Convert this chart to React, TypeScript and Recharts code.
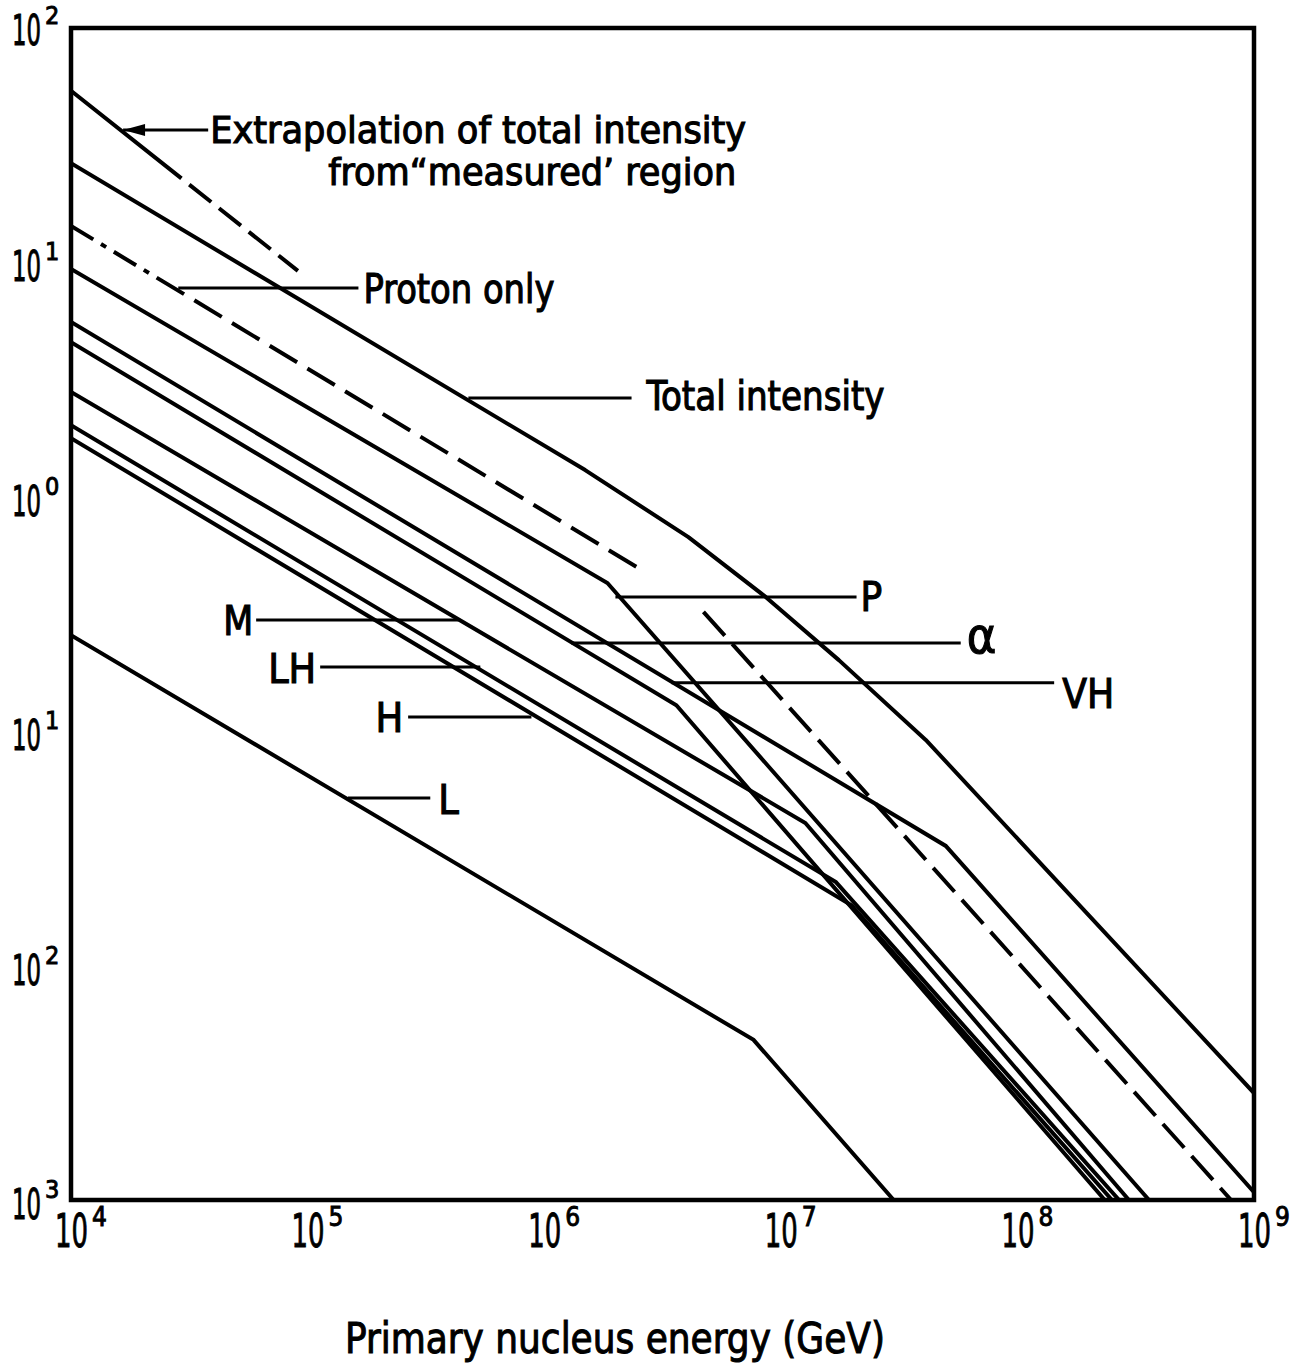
import {
  LineChart,
  Line,
  XAxis,
  YAxis,
  ReferenceArea,
  ReferenceLine,
  ReferenceDot
} from 'recharts'

// primary nucleus energy (GeV) against intensity
const extrapolation = [
  { e: 1e4, i: 54 },
  { e: 9.1e4, i: 9.2 }
]
const totalIntensity = [
  { e: 1e4, i: 26.5 },
  { e: 1.49e6, i: 1.3 },
  { e: 4.07e6, i: 0.673 },
  { e: 8.63e6, i: 0.374 },
  { e: 1.76e7, i: 0.201 },
  { e: 4.1e7, i: 0.0918 },
  { e: 1e9, i: 0.00286 }
]
const protonOnlyLow = [
  { e: 1e4, i: 14.3 },
  { e: 2.5e6, i: 0.497 }
]
const protonOnlyHigh = [
  { e: 4.71e6, i: 0.323 },
  { e: 8.0e8, i: 0.001 }
]
const protons = [
  { e: 1e4, i: 9.37 },
  { e: 1.85e6, i: 0.429 },
  { e: 3.6e8, i: 0.001 }
]
const veryHeavy = [
  { e: 1e4, i: 5.57 },
  { e: 4.98e7, i: 0.0324 },
  { e: 1e9, i: 0.00108 }
]
const alphas = [
  { e: 1e4, i: 4.57 },
  { e: 3.62e6, i: 0.129 },
  { e: 2.34e8, i: 0.001 }
]
const medium = [
  { e: 1e4, i: 2.8 },
  { e: 1.27e7, i: 0.0406 },
  { e: 2.96e8, i: 0.001 }
]
const lightHeavy = [
  { e: 1e4, i: 2.02 },
  { e: 1.71e7, i: 0.0227 },
  { e: 2.69e8, i: 0.001 }
]
const heavy = [
  { e: 1e4, i: 1.78 },
  { e: 1.99e7, i: 0.0181 },
  { e: 2.51e8, i: 0.001 }
]
const light = [
  { e: 1e4, i: 0.257 },
  { e: 7.67e6, i: 0.00482 },
  { e: 3.0e7, i: 0.001 }
]

const energyTicks = [1e4, 1e5, 1e6, 1e7, 1e8, 1e9]
const energyExponents = ['4', '5', '6', '7', '8', '9']
const intensityTicks = [1e-3, 1e-2, 1e-1, 1e0, 1e1, 1e2]
// exponents as printed on the original (the minus signs are lost in the print)
const intensityExponents = ['3', '2', '1', '0', '1', '2']

// horizontal pointers: label end (near), curve end (far), intensity level
const callouts = [
  { key: 'extrap', text: ['Extrapolation of  total intensity', 'from\u201cmeasured\u2019 region'], near: 3.8e4, far: 1.66e4, i: 36.7 },
  { key: 'proton', text: ['Proton only'], near: 1.64e5, far: 2.84e4, i: 7.78 },
  { key: 'total', text: ['Total intensity'], near: 2.34e6, far: 4.78e5, i: 2.64 },
  { key: 'P', text: ['P'], near: 2.09e7, far: 2.0e6, i: 0.374 },
  { key: 'alpha', text: ['\u03b1'], near: 5.76e7, far: 1.3e6, i: 0.238 },
  { key: 'VH', text: ['VH'], near: 1.43e8, far: 3.45e6, i: 0.161 },
  { key: 'M', text: ['M'], near: 6.06e4, far: 4.34e5, i: 0.298 },
  { key: 'LH', text: ['LH'], near: 1.13e5, far: 5.37e5, i: 0.188 },
  { key: 'H', text: ['H'], near: 2.66e5, far: 8.83e5, i: 0.115 },
  { key: 'L', text: ['L'], near: 3.3e5, far: 1.48e5, i: 0.0519 }
]

const FONT = "'DejaVu Sans Condensed', 'Liberation Sans Narrow', 'DejaVu Sans', sans-serif"

type Lay = { anchor: 'start' | 'end'; size: number; pos: number[][] }
const layout: Record<string, Lay> = {
  extrap: { anchor: 'start', size: 38, pos: [[2, 13, 536], [120, 55, 408]] },
  proton: { anchor: 'start', size: 41, pos: [[5, 15, 191]] },
  total: { anchor: 'start', size: 41, pos: [[15, 12, 238]] },
  P: { anchor: 'start', size: 40, pos: [[4, 14, 0]] },
  alpha: { anchor: 'start', size: 50, pos: [[6, 10, 0]] },
  VH: { anchor: 'start', size: 41, pos: [[8, 25, 52]] },
  M: { anchor: 'end', size: 41, pos: [[-3, 15, 30]] },
  LH: { anchor: 'end', size: 41, pos: [[-4, 16, 48]] },
  H: { anchor: 'end', size: 41, pos: [[-5, 15, 0]] },
  L: { anchor: 'start', size: 41, pos: [[8, 16, 0]] }
}

// "10" with its exponent as one text, the base squeezed to the narrow lettering
const Power = ({ x, y, exp, size, width, sup }: any) => (
  <text x={x} y={y} fontFamily={FONT} fontSize={size} fill='#000' stroke='#000' strokeWidth={0.9}>
    <tspan textLength={width} lengthAdjust='spacingAndGlyphs'>10</tspan>
    <tspan dx={4} dy={-21} fontSize={sup}>{exp}</tspan>
  </text>
)

const XTick = ({ x, y, payload }: any) => {
  const k = energyTicks.indexOf(payload.value)
  return <Power x={x - 16} y={y + 47} exp={energyExponents[k]} size={46} width={33} sup={26} />
}

const YTick = ({ x, y, payload }: any) => {
  const k = intensityTicks.indexOf(payload.value)
  const top = k === intensityTicks.length - 1
  return <Power x={x - 59} y={top ? y + 17 : y + 19} exp={intensityExponents[k]} size={42} width={29} sup={25} />
}

const curve = { dot: false, isAnimationActive: false, type: 'linear' as const, stroke: '#000', strokeWidth: 4 }

export default function App () {
  return (
    <div style={{ position: 'absolute', left: 0, top: 0, background: '#fff' }}>
      <LineChart width={1291} height={1367} margin={{ top: 28, right: 37, bottom: 0, left: 0 }}>
        <XAxis
          type='number'
          dataKey='e'
          scale='log'
          domain={[1e4, 1e9]}
          ticks={energyTicks}
          interval={0}
          allowDataOverflow
          axisLine={false}
          tickLine={false}
          tickSize={0}
          tickMargin={0}
          height={167}
          tick={<XTick />}
          label={{
            content: ({ viewBox }: any) => (
              <text
                x={viewBox.x + 274}
                y={viewBox.y + 153}
                fontFamily={FONT}
                fontSize={43}
                textLength={540}
                lengthAdjust='spacingAndGlyphs'
                fill='#000'
                stroke='#000'
                strokeWidth={1}
              >
                Primary nucleus energy  (GeV)
              </text>
            )
          }}
        />
        <YAxis
          type='number'
          dataKey='i'
          scale='log'
          domain={[1e-3, 1e2]}
          ticks={intensityTicks}
          interval={0}
          allowDataOverflow
          axisLine={false}
          tickLine={false}
          tickSize={0}
          tickMargin={0}
          width={71}
          tick={<YTick />}
        />
        <ReferenceArea x1={1e4} x2={1e9} y1={1e-3} y2={1e2} fill='none' stroke='#000' strokeWidth={4.5} ifOverflow='visible' />

        <Line data={extrapolation} dataKey='i' {...curve} strokeDasharray='141 10 28 10 28 10 28 10 28 10' />
        <Line data={totalIntensity} dataKey='i' {...curve} strokeLinejoin='round' />
        <Line data={protonOnlyLow} dataKey='i' {...curve} strokeDasharray={'26 9 6 9 26 9 6 9 ' + '32 12 '.repeat(14)} />
        <Line data={protonOnlyHigh} dataKey='i' {...curve} strokeDasharray='32 11' />
        <Line data={protons} dataKey='i' {...curve} />
        <Line data={veryHeavy} dataKey='i' {...curve} />
        <Line data={alphas} dataKey='i' {...curve} />
        <Line data={medium} dataKey='i' {...curve} />
        <Line data={lightHeavy} dataKey='i' {...curve} />
        <Line data={heavy} dataKey='i' {...curve} />
        <Line data={light} dataKey='i' {...curve} />

        {callouts.map((c) => (
          <ReferenceLine
            key={'p' + c.key}
            segment={[{ x: c.far, y: c.i }, { x: c.near, y: c.i }]}
            stroke='#000'
            strokeWidth={3}
          />
        ))}
        <ReferenceDot
          x={callouts[0].far}
          y={callouts[0].i}
          r={1}
          shape={(p: any) => (
            <polygon points={`${p.cx},${p.cy} ${p.cx + 22},${p.cy - 6} ${p.cx + 22},${p.cy + 6}`} fill='#000' />
          )}
        />
        {callouts.map((c) => {
          const lay = layout[c.key]
          return (
            <ReferenceDot
              key={'t' + c.key}
              x={c.near}
              y={c.i}
              r={1}
              shape={(p: any) => (
                <g>
                  {c.text.map((t, k) => (
                    <text
                      key={k}
                      x={p.cx + lay.pos[k][0]}
                      y={p.cy + lay.pos[k][1]}
                      textAnchor={lay.anchor}
                      fontFamily={FONT}
                      fontSize={lay.size}
                      fill='#000'
                      stroke='#000'
                      strokeWidth={1.1}
                      {...(lay.pos[k][2] ? { textLength: lay.pos[k][2], lengthAdjust: 'spacingAndGlyphs' } : {})}
                    >
                      {t}
                    </text>
                  ))}
                </g>
              )}
            />
          )
        })}
      </LineChart>
    </div>
  )
}
